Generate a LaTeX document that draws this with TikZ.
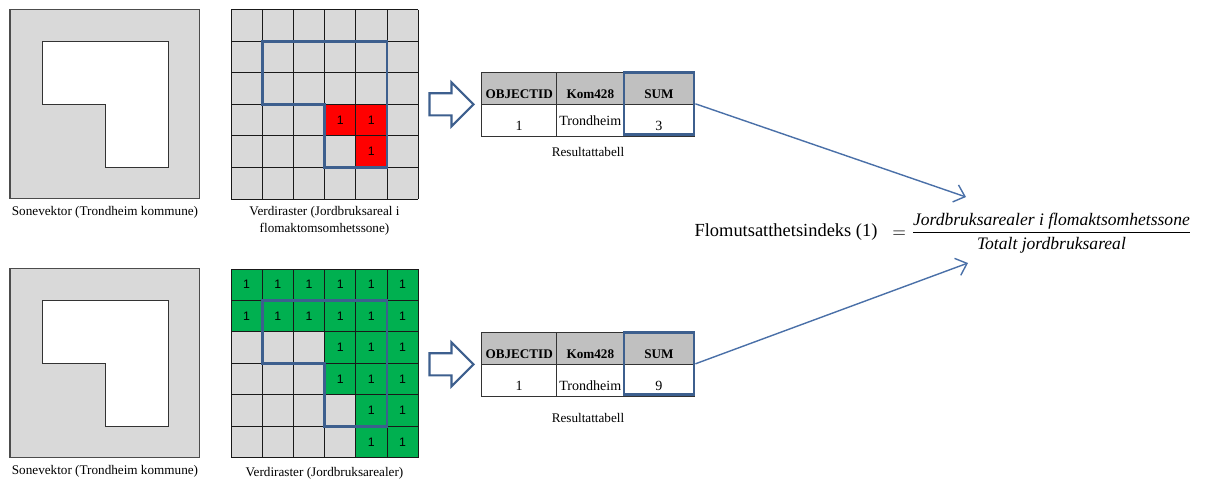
\documentclass[tikz,border=0pt]{standalone}
\usepackage{amsmath}
\usepackage{fontspec}
\setmainfont{Liberation Serif}
\newfontfamily\cellfont{Liberation Sans}
\usetikzlibrary{shapes.arrows,
                arrows.meta, % for the link tips
                calc,
                positioning}

\definecolor{zonegray}{HTML}{D9D9D9}
\definecolor{rastred}{HTML}{FF0000}
\definecolor{rastgreen}{HTML}{00B050}
\definecolor{zoneblue}{HTML}{3D5F8E}
\definecolor{linkblue}{HTML}{4A70A8}
\definecolor{headgray}{HTML}{C0C0C0}

\begin{document}
\begin{tikzpicture}[x=0.02cm, y=-0.02cm,
                    zone/.style={draw=black!70, line width=0.7pt, fill=zonegray},
                    hole/.style={draw=black!80, line width=0.5pt, fill=white},
                    cellgrid/.style={draw=black!90, line width=0.5pt},
                    cellnum/.style={font=\cellfont\fontsize{7}{8}\selectfont, inner sep=0pt},
                    zoneline/.style={draw=zoneblue, line width=1.6pt, line join=miter},
                    caption/.style={font=\fontsize{7.5}{9.6}\selectfont, align=center, inner sep=0pt},
                    thead/.style={font=\bfseries\fontsize{7.5}{8}\selectfont, inner sep=0pt},
                    tcell/.style={font=\fontsize{8}{9}\selectfont, inner sep=0pt},
                    tablegrid/.style={draw=black!80, line width=0.6pt},
                    sumbox/.style={draw=zoneblue, line width=1.6pt, minimum width=1.4cm, minimum height=1.24cm, inner sep=0pt},
                    blockarrow/.style={single arrow, draw=zoneblue, line width=1.2pt, fill=white,
                                       minimum height=0.88cm, minimum width=0.84cm, inner xsep=0pt, inner ysep=0.2cm,
                                       single arrow head extend=0.22cm, single arrow tip angle=90},
                    link/.style={draw=linkblue, line width=0.8pt, -{Straight Barb[length=2mm,width=3.6mm]}}
                    ]
    \useasboundingbox (0,0) rectangle (1212,481);

    % SONEVEKTOR %
    \foreach \sv/\sy in {top/9.3, bot/268.3}{
    \draw[zone] (10,\sy) rectangle (199.5,\sy+189.5);
    \draw[hole] (42,\sy+31.7) -- (168,\sy+31.7) -- (168,\sy+158) -- (105,\sy+158)
                -- (105,\sy+94.7) -- (42,\sy+94.7) -- cycle;
    \node[caption] (sv-\sv) at (105,\sy+203.5) {Sonevektor (Trondheim kommune)};
    }

    % VERDIRASTER %
    \foreach \gy/\gh in {9.5/31.6, 269/31.45}
    \fill[zonegray] (231,\gy) rectangle ++(187.2,6*\gh);

    \foreach \r/\c in {3/3,3/4,4/4}{
    \fill[rastred] (231+31.2*\c,9.5+31.6*\r) rectangle ++(31.2,31.6);
    \node[cellnum] (one-top-\r-\c) at (246.6+31.2*\c,25.3+31.6*\r) {1};
    }

    \foreach \r/\c in {0/0,0/1,0/2,0/3,0/4,0/5,1/0,1/1,1/2,1/3,1/4,1/5,
                       2/3,2/4,2/5,3/3,3/4,3/5,4/4,4/5,5/4,5/5}{
    \fill[rastgreen] (231+31.2*\c,269+31.45*\r) rectangle ++(31.2,31.45);
    \node[cellnum] (one-bot-\r-\c) at (246.6+31.2*\c,284.7+31.45*\r) {1};
    }

    \foreach \gy/\gh in {9.5/31.6, 269/31.45}{
    \foreach \i in {0,...,6}{
    \draw[cellgrid] (231+31.2*\i,\gy) -- ++(0,6*\gh);
    \draw[cellgrid] (231,\gy+\gh*\i) -- ++(187.2,0);
    }
    \draw[zoneline] (262.2,\gy+\gh) -- (387,\gy+\gh) -- (387,\gy+5*\gh) -- (324.6,\gy+5*\gh)
                    -- (324.6,\gy+3*\gh) -- (262.2,\gy+3*\gh) -- cycle;
    }

    \node[caption] (vr-top) at (324.5,220.5) {Verdiraster (Jordbruksareal i\\flomaktomsomhetssone)};
    \node[caption] (vr-bot) at (324.5,473) {Verdiraster (Jordbruksarealer)};

    % RESULTATTABELL %
    \foreach \tb/\ty/\sum/\tr/\cy in {top/72.3/3/48/79.7, bot/332.3/9/53/85.7}{
    \node[blockarrow] (push-\tb) at (446,\ty+32) {};
    \fill[headgray] (481.7,\ty) rectangle (694,\ty+32);
    \draw[tablegrid] (481.7,\ty) rectangle (694,\ty+64);
    \draw[tablegrid] (481.7,\ty+32) -- (694,\ty+32);
    \draw[tablegrid] (556.7,\ty) -- (556.7,\ty+64);
    \draw[tablegrid] (624,\ty) -- (624,\ty+64);
    \node[thead] (obj-\tb) at (519.2,\ty+22) {OBJECTID};
    \node[thead] (kom-\tb) at (590.3,\ty+22) {Kom428};
    \node[thead] (sumh-\tb) at (659,\ty+22) {SUM};
    \node[tcell] (id-\tb) at (519.2,\ty+54) {1};
    \node[tcell] (name-\tb) at (590.3,\ty+\tr) {Trondheim};
    \node[tcell] (val-\tb) at (659,\ty+54) {\sum};
    \node[sumbox] (sum-\tb) at (659,\ty+31.5) {};
    \node[caption] (res-\tb) at (588,\ty+\cy) {Resultattabell};
    }

    % FORMEL %
    \node[font=\fontsize{10.5}{12}\selectfont, inner sep=0pt] (index) at (786,232) {Flomutsatthetsindeks (1)};
    \node[anchor=west, inner sep=0pt, font=\fontsize{10}{11}\selectfont] (ratio) at (892,233)
        {$=\dfrac{\textit{Jordbruksarealer i flomaktsomhetssone}}{\textit{Totalt jordbruksareal}}$};

    \coordinate (tip-top) at (966,197);
    \coordinate (tip-bot) at (968,263);
    \draw[link] (sum-top.east) -- (tip-top);
    \draw[link] (sum-bot.east) -- (tip-bot);

\end{tikzpicture}
\end{document}
